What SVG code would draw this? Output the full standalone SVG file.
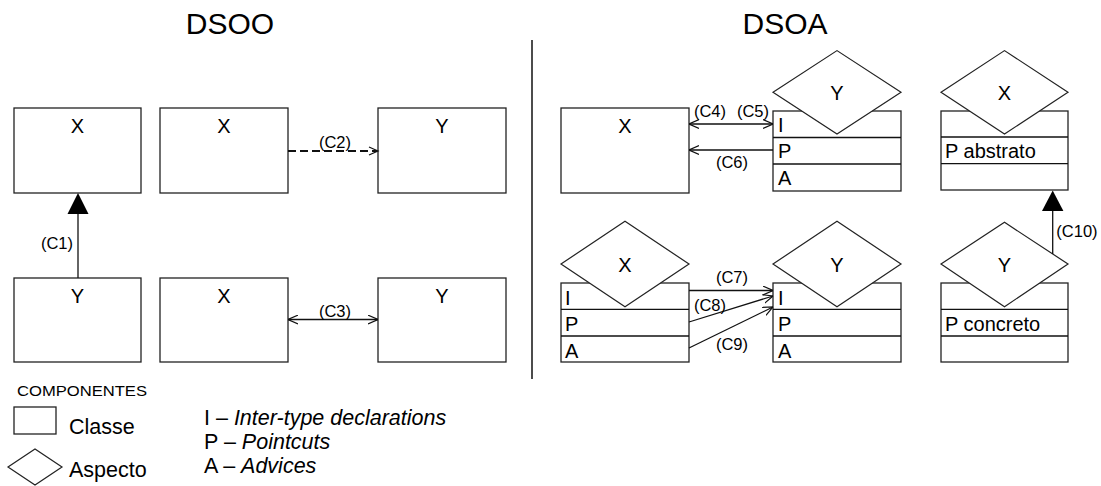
<svg xmlns="http://www.w3.org/2000/svg" width="1101" height="486" viewBox="0 0 1101 486">
<style>
.box{fill:#fff;stroke:#222;stroke-width:1.3}
.dia{fill:#fff;stroke:#222;stroke-width:1.2}
.ln{fill:none;stroke:#111;stroke-width:1.3}
.t{font-family:"Liberation Sans",Arial,sans-serif;fill:#000}
.title{font-size:30px;text-anchor:middle}
.lbl{font-size:20px;text-anchor:middle}
.row{font-size:20px}
.cl{font-size:16.5px;text-anchor:middle}
.lg{font-size:21.5px}
.it{font-style:italic}
</style>
<defs>
<marker id="open" viewBox="0 0 10 10" refX="10" refY="5" markerWidth="10" markerHeight="10" markerUnits="userSpaceOnUse" orient="auto-start-reverse">
<path d="M0,0.6 L10,5 L0,9.4" fill="none" stroke="#111" stroke-width="1.2"/>
</marker>
</defs>
<rect width="1101" height="486" fill="#fff"/>

<text class="t title" x="230" y="34">DSOO</text>
<text class="t title" x="785" y="34">DSOA</text>
<line x1="532" y1="40" x2="532" y2="379" stroke="#111" stroke-width="1.5"/>

<!-- DSOO -->
<g id="dsoo-x1"><rect class="box" x="14" y="108" width="127" height="85"/><text class="t lbl" x="77.5" y="133">X</text></g>
<g id="dsoo-x2"><rect class="box" x="160" y="108" width="128" height="85"/><text class="t lbl" x="224" y="133">X</text></g>
<g id="dsoo-y1"><rect class="box" x="378" y="108" width="128" height="85"/><text class="t lbl" x="442" y="133">Y</text></g>
<g id="dsoo-y2"><rect class="box" x="14" y="278" width="127" height="84"/><text class="t lbl" x="77.5" y="303">Y</text></g>
<g id="dsoo-x3"><rect class="box" x="160" y="278" width="128" height="84"/><text class="t lbl" x="224" y="303">X</text></g>
<g id="dsoo-y3"><rect class="box" x="378" y="278" width="128" height="84"/><text class="t lbl" x="442" y="303">Y</text></g>

<!-- DSOA -->
<g id="dsoa-x"><rect class="box" x="561" y="108" width="128" height="85"/><text class="t lbl" x="625" y="133">X</text></g>
<g id="dsoa-y-top">
<rect class="box" x="773" y="111" width="128" height="80"/>
<line class="ln" x1="773" y1="137.5" x2="901" y2="137.5"/>
<line class="ln" x1="773" y1="164" x2="901" y2="164"/>
<polygon class="dia" points="773,92.3 837,50.6 901,92.3 837,134"/>
<text class="t lbl" x="837" y="100">Y</text>
<text class="t row" x="778" y="132">I</text>
<text class="t row" x="778" y="158">P</text>
<text class="t row" x="778" y="185">A</text>
</g>
<g id="dsoa-x-abstract">
<rect class="box" x="941" y="111" width="127" height="79"/>
<line class="ln" x1="941" y1="137" x2="1068" y2="137"/>
<line class="ln" x1="941" y1="163.7" x2="1068" y2="163.7"/>
<polygon class="dia" points="941,92.3 1004.5,50.6 1068,92.3 1004.5,134"/>
<text class="t lbl" x="1004.5" y="100">X</text>
<text class="t row" x="945" y="158">P abstrato</text>
</g>
<g id="dsoa-x-bottom">
<rect class="box" x="561" y="283" width="128" height="79"/>
<line class="ln" x1="561" y1="309.3" x2="689" y2="309.3"/>
<line class="ln" x1="561" y1="336" x2="689" y2="336"/>
<polygon class="dia" points="561,264 625,221.3 689,264 625,306.7"/>
<text class="t lbl" x="625" y="272">X</text>
<text class="t row" x="565" y="305">I</text>
<text class="t row" x="565" y="331">P</text>
<text class="t row" x="565" y="358">A</text>
</g>
<g id="dsoa-y-bottom">
<rect class="box" x="773" y="283" width="128" height="79"/>
<line class="ln" x1="773" y1="309.3" x2="901" y2="309.3"/>
<line class="ln" x1="773" y1="336" x2="901" y2="336"/>
<polygon class="dia" points="773,264 837,221.3 901,264 837,306.7"/>
<text class="t lbl" x="837" y="272">Y</text>
<text class="t row" x="778" y="305">I</text>
<text class="t row" x="778" y="331">P</text>
<text class="t row" x="778" y="358">A</text>
</g>
<g id="dsoa-y-concrete">
<rect class="box" x="941" y="283" width="127" height="79"/>
<line class="ln" x1="941" y1="309.3" x2="1068" y2="309.3"/>
<line class="ln" x1="941" y1="336" x2="1068" y2="336"/>
<polygon class="dia" points="941,264 1004.5,222.3 1068,264 1004.5,306.7"/>
<text class="t lbl" x="1004.5" y="272">Y</text>
<text class="t row" x="945" y="331">P concreto</text>
</g>

<!-- connectors -->
<g id="connectors">
<line class="ln" x1="78" y1="278" x2="78" y2="212"/>
<polygon points="78,193 67.5,214 88.5,214" fill="#000"/>
<text class="t cl" x="57" y="249">(C1)</text>

<line x1="288" y1="151" x2="377" y2="151" stroke="#111" stroke-width="2" stroke-dasharray="8,4"/>
<path d="M369,147 L378,151 L369,155" fill="none" stroke="#111" stroke-width="1.2"/>
<text class="t cl" x="335" y="148">(C2)</text>

<line class="ln" x1="288" y1="319.5" x2="378" y2="319.5" marker-start="url(#open)" marker-end="url(#open)"/>
<text class="t cl" x="335" y="317">(C3)</text>

<line class="ln" x1="689" y1="124" x2="773" y2="124" marker-start="url(#open)" marker-end="url(#open)"/>
<text class="t cl" x="710" y="117">(C4)</text>
<text class="t cl" x="753" y="117">(C5)</text>

<line class="ln" x1="773" y1="150" x2="689" y2="150" marker-end="url(#open)"/>
<text class="t cl" x="732" y="168">(C6)</text>

<line class="ln" x1="689" y1="290.5" x2="773" y2="290.5" marker-end="url(#open)"/>
<text class="t cl" x="732" y="283">(C7)</text>
<line class="ln" x1="689" y1="322" x2="773" y2="296" marker-end="url(#open)"/>
<text class="t cl" x="710" y="311">(C8)</text>
<line class="ln" x1="689" y1="348" x2="773" y2="307" marker-end="url(#open)"/>
<text class="t cl" x="732" y="350">(C9)</text>

<line class="ln" x1="1052.7" y1="254" x2="1052.7" y2="209"/>
<polygon points="1052.7,190.5 1042,211 1063.4,211" fill="#000"/>
<text class="t cl" x="1077" y="237">(C10)</text>
</g>

<!-- legend -->
<g id="legend">
<text class="t" x="17" y="396" font-size="15" textLength="130" lengthAdjust="spacingAndGlyphs">COMPONENTES</text>
<rect class="box" x="14" y="407" width="42" height="27"/>
<text class="t lg" x="69" y="434">Classe</text>
<polygon class="dia" points="8,467 35,449 62,467 35,485"/>
<text class="t lg" x="69" y="477">Aspecto</text>
<text class="t lg" x="204" y="425">I – <tspan class="it">Inter-type declarations</tspan></text>
<text class="t lg" x="204" y="449">P – <tspan class="it">Pointcuts</tspan></text>
<text class="t lg" x="204" y="473">A – <tspan class="it">Advices</tspan></text>
</g>
</svg>
